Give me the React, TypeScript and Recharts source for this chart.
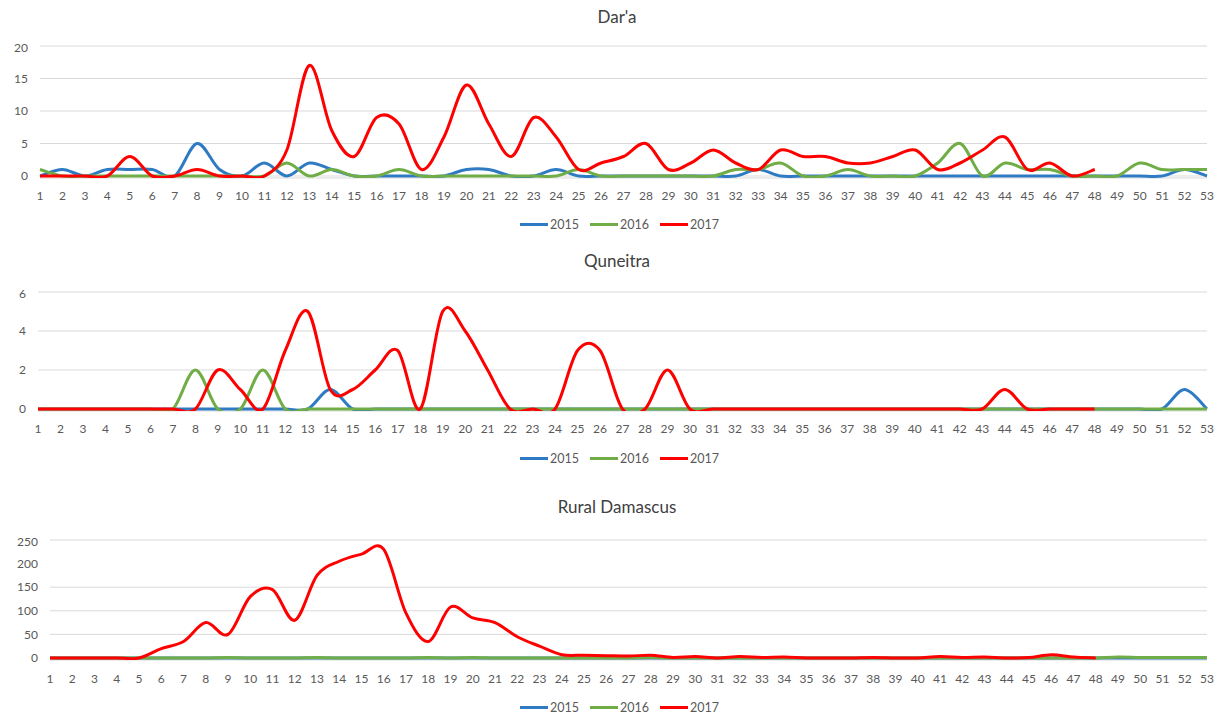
import { LineChart, Line, XAxis, YAxis, CartesianGrid } from 'recharts';

// epidemiological weeks on the category axis
const weeks = [
  '1', '2', '3', '4', '5', '6', '7', '8', '9', '10', '11', '12', '13', '14', '15', '16', '17', '18',
  '19', '20', '21', '22', '23', '24', '25', '26', '27', '28', '29', '30', '31', '32', '33', '34', '35',
  '36', '37', '38', '39', '40', '41', '42', '43', '44', '45', '46', '47', '48', '49', '50', '51', '52', '53',
];

const yearLabels = ['2015', '2016', '2017'];
const yearColors = ['#2E7BC4', '#70AD47', '#FF0000'];

// Dar'a
const daraa2015 = [0, 1, 0, 1, 1, 1, 0, 5, 1, 0, 2, 0, 2, 1, 0, 0, 0, 0, 0, 1, 1, 0, 0, 1, 0, 0, 0, 0, 0, 0, 0, 0, 1, 0, 0, 0, 0, 0, 0, 0, 0, 0, 0, 0, 0, 0, 0, 0, 0, 0, 0, 1, 0];
const daraa2016 = [1, 0, 0, 0, 0, 0, 0, 0, 0, 0, 0, 2, 0, 1, 0, 0, 1, 0, 0, 0, 0, 0, 0, 0, 1, 0, 0, 0, 0, 0, 0, 1, 1, 2, 0, 0, 1, 0, 0, 0, 2, 5, 0, 2, 1, 1, 0, 0, 0, 2, 1, 1, 1];
const daraa2017 = [0, 0, 0, 0, 3, 0, 0, 1, 0, 0, 0, 4, 17, 7, 3, 9, 8, 1, 6, 14, 8, 3, 9, 6, 1, 2, 3, 5, 1, 2, 4, 2, 1, 4, 3, 3, 2, 2, 3, 4, 1, 2, 4, 6, 1, 2, 0, 1, null, null, null, null, null];
const daraaTicks = [0, 5, 10, 15, 20];

// Quneitra
const quneitra2015 = [0, 0, 0, 0, 0, 0, 0, 0, 0, 0, 0, 0, 0, 1, 0, 0, 0, 0, 0, 0, 0, 0, 0, 0, 0, 0, 0, 0, 0, 0, 0, 0, 0, 0, 0, 0, 0, 0, 0, 0, 0, 0, 0, 0, 0, 0, 0, 0, 0, 0, 0, 1, 0];
const quneitra2016 = [0, 0, 0, 0, 0, 0, 0, 2, 0, 0, 2, 0, 0, 0, 0, 0, 0, 0, 0, 0, 0, 0, 0, 0, 0, 0, 0, 0, 0, 0, 0, 0, 0, 0, 0, 0, 0, 0, 0, 0, 0, 0, 0, 0, 0, 0, 0, 0, 0, 0, 0, 0, 0];
const quneitra2017 = [0, 0, 0, 0, 0, 0, 0, 0, 2, 1, 0, 3, 5, 1, 1, 2, 3, 0, 5, 4, 2, 0, 0, 0, 3, 3, 0, 0, 2, 0, 0, 0, 0, 0, 0, 0, 0, 0, 0, 0, 0, 0, 0, 1, 0, 0, 0, 0, null, null, null, null, null];
const quneitraTicks = [0, 2, 4, 6];

// Rural Damascus
const rural2015 = [0, 0, 0, 0, 0, 0, 0, 0, 0, 0, 0, 0, 0, 0, 0, 0, 0, 0, 0, 0, 0, 0, 0, 0, 0, 0, 0, 0, 0, 0, 0, 0, 0, 0, 0, 0, 0, 0, 0, 0, 0, 0, 0, 0, 0, 0, 0, 0, 0, 0, 0, 0, 0];
const rural2016 = [0, 0, 0, 0, 0, 0, 0, 0, 1, 0, 0, 0, 1, 0, 0, 0, 0, 1, 0, 1, 0, 0, 0, 0, 0, 0, 0, 1, 0, 0, 0, 0, 0, 0, 0, 0, 0, 0, 0, 0, 0, 0, 0, 0, 0, 0, 0, 0, 2, 1, 1, 1, 1];
const rural2017 = [0, 0, 0, 0, 0, 20, 35, 75, 50, 130, 145, 80, 175, 205, 220, 230, 95, 35, 108, 85, 75, 45, 25, 7, 6, 5, 4, 6, 1, 3, 0, 3, 1, 2, 0, 0, 0, 1, 0, 0, 3, 1, 2, 0, 1, 7, 2, 0, null, null, null, null, null];
const ruralTicks = [0, 50, 100, 150, 200, 250];

const FONT = 'Lato, "Open Sans", sans-serif';

// Excel-style smoothing: Catmull-Rom segments drawn as cubic beziers
function excelSmooth(context: any) {
  let pts: number[][] = [];
  return {
    areaStart() {},
    areaEnd() {},
    lineStart() {
      pts = [];
    },
    point(x: number, y: number) {
      pts.push([+x, +y]);
    },
    lineEnd() {
      const n = pts.length;
      if (n === 0) return;
      context.moveTo(pts[0][0], pts[0][1]);
      for (let i = 0; i < n - 1; i++) {
        const p0 = pts[Math.max(i - 1, 0)];
        const p1 = pts[i];
        const p2 = pts[i + 1];
        const p3 = pts[Math.min(i + 2, n - 1)];
        context.bezierCurveTo(
          p1[0] + (p2[0] - p0[0]) / 6,
          p1[1] + (p2[1] - p0[1]) / 6,
          p2[0] - (p3[0] - p1[0]) / 6,
          p2[1] - (p3[1] - p1[1]) / 6,
          p2[0],
          p2[1],
        );
      }
    },
  };
}

function buildRows(s2015: (number | null)[], s2016: (number | null)[], s2017: (number | null)[]) {
  return weeks.map((week, i) => ({ week, y2015: s2015[i], y2016: s2016[i], y2017: s2017[i] }));
}

interface PanelProps {
  title: string;
  rows: any[];
  yTicks: number[];
  top: number; // y of the top gridline
  zero: number; // y of the zero gridline
  left: number; // x where the plot starts
  titleY: number;
  labelGap: number;
  legendY: number;
}

function Panel({ title, rows, yTicks, top, zero, left, titleY, labelGap, legendY }: PanelProps) {
  const yMax = yTicks[yTicks.length - 1];
  const pad = 2; // a little room under zero so flat lines keep their full width
  const yMin = (-pad * yMax) / (zero - top);
  const marginTop = 6;
  const axisH = 30;
  const height = marginTop + (zero - top + pad) + axisH;
  const tickStyle = { fontSize: 12, fill: '#595959', fontFamily: FONT };
  const keys = ['y2015', 'y2016', 'y2017'];

  return (
    <>
      <div
        style={{
          position: 'absolute',
          left: 0,
          width: 1234,
          top: titleY - 10,
          lineHeight: '20px',
          textAlign: 'center',
          fontSize: 17,
          color: '#404040',
          fontFamily: FONT,
        }}
      >
        {title}
      </div>
      <div style={{ position: 'absolute', left: 0, top: top - marginTop }}>
        <LineChart width={1217} height={height} data={rows} margin={{ top: marginTop, right: 10, bottom: 0, left: 0 }}>
          <CartesianGrid vertical={false} stroke="#D9D9D9" />
          <XAxis
            dataKey="week"
            interval={0}
            axisLine={false}
            tickLine={false}
            tickSize={0}
            tickMargin={labelGap}
            height={axisH}
            tick={tickStyle}
          />
          <YAxis
            width={left}
            domain={[yMin, yMax]}
            ticks={yTicks}
            allowDataOverflow
            axisLine={false}
            tickLine={false}
            tickSize={0}
            tickMargin={12}
            tick={tickStyle}
          />
          {keys.map((k, i) => (
            <Line
              key={k}
              dataKey={k}
              name={yearLabels[i]}
              type={excelSmooth as any}
              stroke={yearColors[i]}
              strokeWidth={3}
              dot={false}
              activeDot={false}
              isAnimationActive={false}
            />
          ))}
        </LineChart>
      </div>
      <div
        style={{
          position: 'absolute',
          left: 520,
          top: legendY - 8,
          height: 16,
          display: 'flex',
          alignItems: 'center',
          fontFamily: FONT,
          fontSize: 12.5,
          color: '#595959',
        }}
      >
        {yearLabels.map((label, i) => (
          <div key={label} style={{ display: 'flex', alignItems: 'center', marginRight: 11 }}>
            <span style={{ display: 'inline-block', width: 28, height: 3, background: yearColors[i], marginRight: 2 }} />
            <span>{label}</span>
          </div>
        ))}
      </div>
    </>
  );
}

export default function App() {
  return (
    <div
      style={{
        position: 'absolute',
        left: 0,
        top: 0,
        width: 1217,
        height: 717,
        background: '#ffffff',
        overflow: 'hidden',
      }}
    >
      <Panel
        title="Dar'a"
        rows={buildRows(daraa2015, daraa2016, daraa2017)}
        yTicks={daraaTicks}
        top={46}
        zero={176}
        left={40}
        titleY={17}
        labelGap={13}
        legendY={224}
      />
      <Panel
        title="Quneitra"
        rows={buildRows(quneitra2015, quneitra2016, quneitra2017)}
        yTicks={quneitraTicks}
        top={292}
        zero={409}
        left={38}
        titleY={261}
        labelGap={13}
        legendY={458}
      />
      <Panel
        title="Rural Damascus"
        rows={buildRows(rural2015, rural2016, rural2017)}
        yTicks={ruralTicks}
        top={540}
        zero={658}
        left={50}
        titleY={507}
        labelGap={14}
        legendY={707}
      />
    </div>
  );
}
